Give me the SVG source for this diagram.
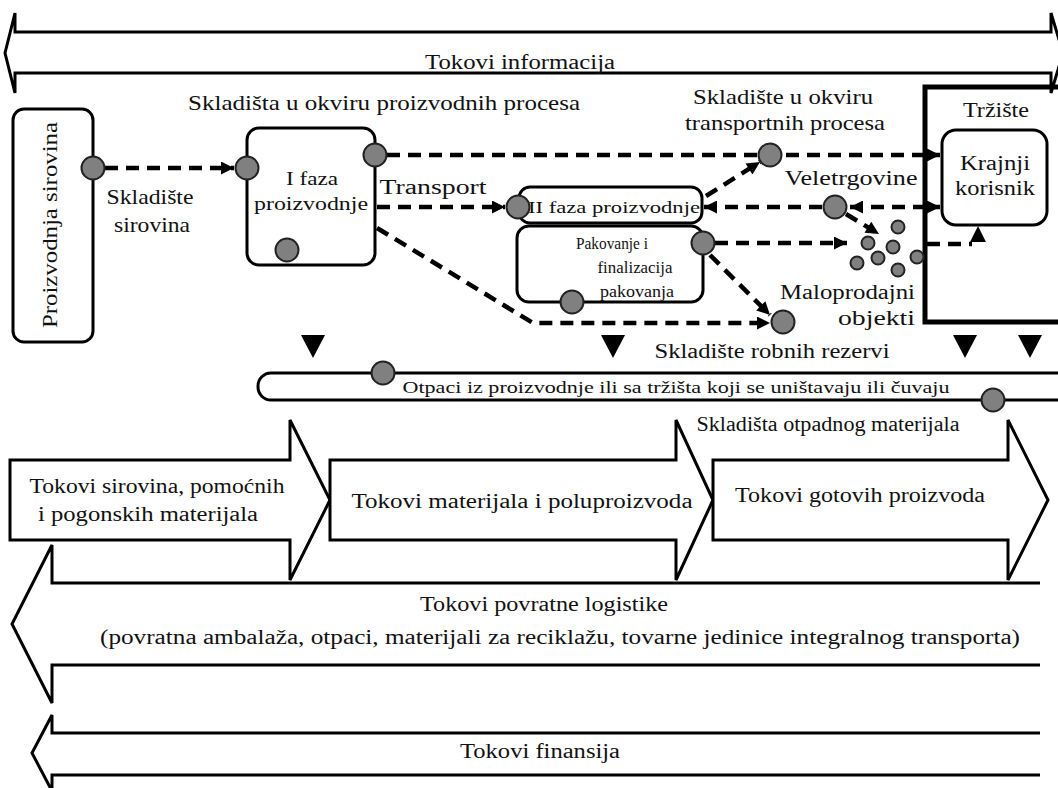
<svg xmlns="http://www.w3.org/2000/svg" width="1058" height="788" viewBox="0 0 1058 788" font-family="'Liberation Serif', Tinos, 'Times New Roman', 'DejaVu Serif', serif">
<style>
text{font-family:'Liberation Serif', Tinos, 'Times New Roman', 'DejaVu Serif', serif;fill:#111;}
.c{text-anchor:middle;}
.box{fill:#fff;stroke:#000;stroke-width:3;}
.flow{fill:#fff;stroke:#000;stroke-width:3;stroke-linejoin:miter;}
.dash{fill:none;stroke:#000;stroke-width:4.5;stroke-dasharray:13 8;}
.dot{fill:#808080;stroke:#222;stroke-width:2;}
.tri{fill:#000;}
</style>
<defs>
<marker id="ah" viewBox="0 0 10 10" refX="10" refY="5" markerWidth="15" markerHeight="13" markerUnits="userSpaceOnUse" orient="auto-start-reverse">
<path d="M0,0 L10,5 L0,10 z" fill="#000"/>
</marker>
</defs>

<g id="flow-informacija">
<polygon class="flow" points="5,53 15,13 15,32 1051,32 1051,13 1063,53 1051,93 1051,73 15,73 15,93"/>
<text class="c" x="520" y="69" font-size="20" textLength="190" lengthAdjust="spacingAndGlyphs">Tokovi informacija</text>
</g>

<g id="flow-sirovina">
<polygon class="flow" points="10,460 290,460 290,420 330,500 290,580 290,540 10,540"/>
<text class="c" x="157" y="493" font-size="20" textLength="255" lengthAdjust="spacingAndGlyphs">Tokovi sirovina, pomoćnih</text>
<text class="c" x="148" y="521" font-size="20" textLength="220" lengthAdjust="spacingAndGlyphs">i pogonskih materijala</text>
</g>
<g id="flow-materijala">
<polygon class="flow" points="330,460 676,460 676,420 713,500 676,580 676,540 330,540"/>
<text class="c" x="522" y="508" font-size="20" textLength="341" lengthAdjust="spacingAndGlyphs">Tokovi materijala i poluproizvoda</text>
</g>
<g id="flow-gotovih">
<polygon class="flow" points="713,460 1008,460 1008,420 1048,500 1008,580 1008,540 713,540"/>
<text class="c" x="860" y="502" font-size="20" textLength="250" lengthAdjust="spacingAndGlyphs">Tokovi gotovih proizvoda</text>
</g>
<g id="flow-povratne">
<path class="flow" d="M1040,583 H52 V545 L12,624 L52,703 V665 H1040"/>
<text class="c" x="544" y="611" font-size="20" textLength="248" lengthAdjust="spacingAndGlyphs">Tokovi povratne logistike</text>
<text class="c" x="560" y="644" font-size="20" textLength="920" lengthAdjust="spacingAndGlyphs">(povratna ambalaža, otpaci, materijali za reciklažu, tovarne jedinice integralnog transporta)</text>
</g>
<g id="flow-finansija">
<path class="flow" d="M1040,733 H52 V715 L32,753 L52,791 V775 H1040"/>
<text class="c" x="540" y="758" font-size="20" textLength="160" lengthAdjust="spacingAndGlyphs">Tokovi finansija</text>
</g>

<g id="trziste">
<rect x="925" y="87" width="200" height="235" fill="none" stroke="#000" stroke-width="5"/>
<text class="c" x="996" y="117" font-size="20" textLength="66" lengthAdjust="spacingAndGlyphs">Tržište</text>
</g>
<g id="krajnji-korisnik">
<rect class="box" x="942" y="130" width="105" height="95" rx="14"/>
<text class="c" x="995" y="170" font-size="20" textLength="70" lengthAdjust="spacingAndGlyphs">Krajnji</text>
<text class="c" x="995" y="195" font-size="20" textLength="80" lengthAdjust="spacingAndGlyphs">korisnik</text>
</g>

<g id="proizvodnja-sirovina">
<rect class="box" x="13" y="109" width="80" height="233" rx="11"/>
<text class="c" transform="translate(57,225) rotate(-90)" font-size="22" textLength="206" lengthAdjust="spacingAndGlyphs">Proizvodnja sirovina</text>
</g>
<g id="faza1">
<rect class="box" x="247" y="128" width="128" height="137" rx="12"/>
<text class="c" x="312" y="185" font-size="19" textLength="52" lengthAdjust="spacingAndGlyphs">I faza</text>
<text class="c" x="311" y="210" font-size="19" textLength="114" lengthAdjust="spacingAndGlyphs">proizvodnje</text>
</g>
<g id="faza2">
<rect class="box" x="519" y="187" width="183" height="36" rx="11"/>
<text class="c" x="614" y="213" font-size="17" textLength="172" lengthAdjust="spacingAndGlyphs">II faza proizvodnje</text>
</g>
<g id="pakovanje">
<rect class="box" x="517" y="226" width="186" height="76" rx="12"/>
<text class="c" x="612" y="249" font-size="17" textLength="72" lengthAdjust="spacingAndGlyphs">Pakovanje i</text>
<text class="c" x="635" y="273" font-size="17" textLength="75" lengthAdjust="spacingAndGlyphs">finalizacija</text>
<text class="c" x="637" y="297" font-size="17" textLength="74" lengthAdjust="spacingAndGlyphs">pakovanja</text>
</g>
<g id="otpaci">
<rect class="box" x="258" y="373" width="840" height="27" rx="13"/>
<text class="c" x="676" y="393" font-size="17" textLength="547" lengthAdjust="spacingAndGlyphs">Otpaci iz proizvodnje ili sa tržišta koji se uništavaju ili čuvaju</text>
</g>

<g id="labels">
<text class="c" x="384" y="110" font-size="21" textLength="392" lengthAdjust="spacingAndGlyphs">Skladišta u okviru proizvodnih procesa</text>
<text class="c" x="783" y="104" font-size="21" textLength="180" lengthAdjust="spacingAndGlyphs">Skladište u okviru</text>
<text class="c" x="785" y="130" font-size="21" textLength="200" lengthAdjust="spacingAndGlyphs">transportnih procesa</text>
<text class="c" x="150" y="204" font-size="21" textLength="87" lengthAdjust="spacingAndGlyphs">Skladište</text>
<text class="c" x="152" y="232" font-size="21" textLength="76" lengthAdjust="spacingAndGlyphs">sirovina</text>
<text class="c" x="433" y="194" font-size="20" textLength="107" lengthAdjust="spacingAndGlyphs">Transport</text>
<text class="c" x="851" y="185" font-size="20" textLength="133" lengthAdjust="spacingAndGlyphs">Veletrgovine</text>
<text x="915" y="299" font-size="20" text-anchor="end" textLength="135" lengthAdjust="spacingAndGlyphs">Maloprodajni</text>
<text x="915" y="325" font-size="20" text-anchor="end" textLength="77" lengthAdjust="spacingAndGlyphs">objekti</text>
<text class="c" x="772" y="358" font-size="20" textLength="235" lengthAdjust="spacingAndGlyphs">Skladište robnih rezervi</text>
<text class="c" x="828" y="431" font-size="20" textLength="263" lengthAdjust="spacingAndGlyphs">Skladišta otpadnog materijala</text>
</g>

<g id="markers-down">
<polygon class="tri" points="301,335 325,335 313,358"/>
<polygon class="tri" points="601,335 625,335 613,358"/>
<polygon class="tri" points="953,335 977,335 965,358"/>
<polygon class="tri" points="1018,335 1042,335 1030,358"/>
</g>

<g id="connectors">
<line class="dash" x1="105" y1="168" x2="234" y2="168" marker-end="url(#ah)"/>
<line class="dash" x1="387" y1="155" x2="940" y2="155" marker-end="url(#ah)"/>
<line class="dash" x1="706" y1="196" x2="760" y2="162" marker-end="url(#ah)"/>
<line class="dash" x1="377" y1="207" x2="505" y2="207" marker-end="url(#ah)"/>
<line class="dash" x1="822" y1="207" x2="704" y2="207" marker-end="url(#ah)"/>
<line class="dash" x1="850" y1="207" x2="940" y2="207" marker-start="url(#ah)" marker-end="url(#ah)"/>
<line class="dash" x1="846" y1="214" x2="879" y2="234" marker-end="url(#ah)"/>
<line class="dash" x1="715" y1="243" x2="847" y2="243" marker-end="url(#ah)"/>
<line class="dash" x1="927" y1="244" x2="972" y2="244"/>
<polygon class="tri" points="970,242 986,242 978,226"/>
<line class="dash" x1="710" y1="255" x2="770" y2="315" marker-end="url(#ah)"/>
<path class="dash" d="M377,228 L533,323 L770,323" marker-end="url(#ah)"/>
</g>

<g id="storage-dots">
<circle class="dot" cx="93" cy="168" r="11.5"/>
<circle class="dot" cx="247" cy="168" r="11.5"/>
<circle class="dot" cx="375" cy="155" r="11.5"/>
<circle class="dot" cx="287" cy="250" r="11.5"/>
<circle class="dot" cx="770" cy="155" r="11.5"/>
<circle class="dot" cx="518" cy="207" r="11.5"/>
<circle class="dot" cx="703" cy="243" r="11.5"/>
<circle class="dot" cx="572" cy="302" r="11.5"/>
<circle class="dot" cx="835" cy="207" r="11.5"/>
<circle class="dot" cx="783" cy="322" r="11.5"/>
<circle class="dot" cx="383" cy="373" r="11.5"/>
<circle class="dot" cx="993" cy="400" r="11.5"/>
</g>
<g id="maloprodaja-dots">
<circle class="dot" cx="898" cy="227" r="6.5"/>
<circle class="dot" cx="868" cy="243" r="6.5"/>
<circle class="dot" cx="893" cy="247" r="6.5"/>
<circle class="dot" cx="857" cy="263" r="6.5"/>
<circle class="dot" cx="878" cy="258" r="6.5"/>
<circle class="dot" cx="898" cy="270" r="6.5"/>
<circle class="dot" cx="917" cy="257" r="6.5"/>
</g>
</svg>
